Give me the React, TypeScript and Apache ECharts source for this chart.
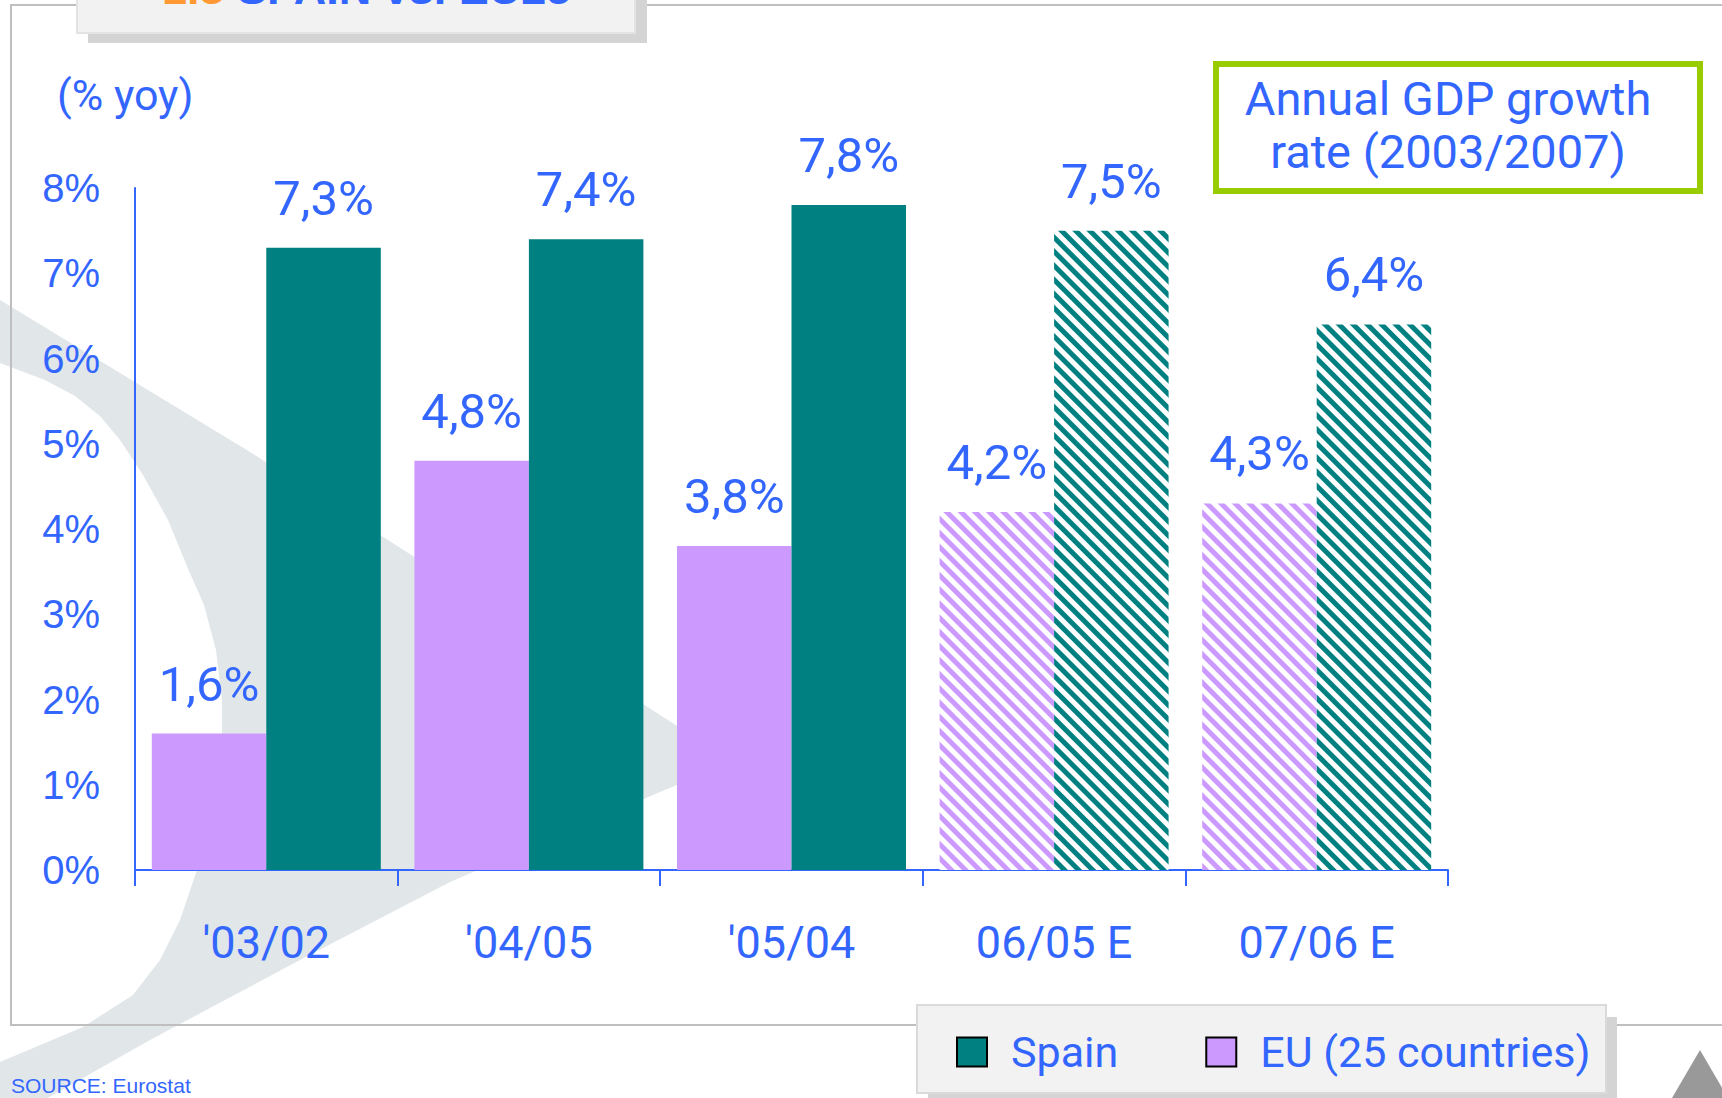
import React, { useEffect, useRef } from "react";
import * as echarts from "echarts";

const categories = ["'03/02", "'04/05", "'05/04", "06/05 E", "07/06 E"];
const euValues = [1.6, 4.8, 3.8, 4.2, 4.3];
const spainValues = [7.3, 7.4, 7.8, 7.5, 6.4];
const estimated = [false, false, false, true, true];
const seriesNames = ["Spain", "EU (25 countries)"];

const BLUE = "#3366ff";
const TEAL = "#008080";
const LILAC = "#cc99ff";
const NARROW = "Roboto, 'Liberation Sans', sans-serif";
const SANS = "'Liberation Sans', Arial, sans-serif";

function hatched(values: number[], color: string) {
  return values.map((v, i) =>
    estimated[i]
      ? {
          value: v,
          itemStyle: {
            color: "#ffffff",
            decal: {
              symbol: "rect",
              symbolSize: 1,
              color: color,
              dashArrayX: [1, 0],
              dashArrayY: [5, 5],
              rotation: Math.PI / 4,
            },
          },
        }
      : { value: v }
  );
}

const fmt = (p: any) => Number(p.value).toFixed(1).replace(".", ",") + "%";

export default function App() {
  const ref = useRef<HTMLDivElement>(null);
  useEffect(() => {
    if (!ref.current) return;
    const chart = echarts.init(ref.current, null, { renderer: "svg" });
    const label = {
      show: true,
      position: "top",
      distance: 25,
      formatter: fmt,
      fontSize: 49,
      fontFamily: NARROW,
      color: BLUE,
    };
    chart.setOption({
      animation: false,
      backgroundColor: "#ffffff",
      grid: { left: 135, right: 274, top: 188, bottom: 228, containLabel: false },
      legend: {
        left: 951,
        top: 1019,
        data: seriesNames,
        icon: "rect",
        itemWidth: 30,
        itemHeight: 29,
        itemGap: 87,
        selectedMode: false,
        itemStyle: { borderColor: "#000000", borderWidth: 2 },
        textStyle: {
          fontSize: 43,
          fontFamily: NARROW,
          color: BLUE,
          lineHeight: 56,
          padding: [0, 0, 0, 19],
        },
      },
      xAxis: {
        type: "category",
        data: categories,
        axisLine: { show: true, lineStyle: { color: BLUE, width: 2 } },
        axisTick: { show: true, length: 16, lineStyle: { color: BLUE, width: 2 } },
        axisLabel: { interval: 0, fontSize: 45, fontFamily: NARROW, color: BLUE, margin: 50 },
        splitLine: { show: false },
      },
      yAxis: {
        type: "value",
        min: 0,
        max: 8,
        interval: 1,
        axisLine: { show: true, lineStyle: { color: BLUE, width: 2 } },
        axisTick: { show: false },
        splitLine: { show: false },
        axisLabel: { formatter: "{value}%", fontSize: 40, fontFamily: SANS, color: BLUE, margin: 35 },
      },
      series: [
        {
          name: "EU (25 countries)",
          type: "bar",
          data: hatched(euValues, LILAC),
          itemStyle: { color: LILAC },
          barGap: "0%",
          barCategoryGap: "12.8%",
          label,
        },
        {
          name: "Spain",
          type: "bar",
          data: hatched(spainValues, TEAL),
          itemStyle: { color: TEAL },
          barGap: "0%",
          barCategoryGap: "12.8%",
          label,
        },
      ],
      graphic: [
        {
          type: "polygon",
          z: -10,
          silent: true,
          shape: {
            points: [
              [0, 300], [250, 452], [413, 556], [660, 715], [733, 762], [660, 792],
              [450, 882], [300, 960], [150, 1040], [0, 1125], [0, 1062], [83, 1027],
              [133, 995], [160, 960], [180, 920], [197, 870], [210, 830], [218, 780],
              [222, 740], [222, 700], [216, 650], [204, 605], [189, 571], [168, 520],
              [143, 475], [120, 440], [100, 416], [75, 396], [45, 380], [0, 363],
            ],
          },
          style: { fill: "#e1e6e8" },
        },
        {
          type: "rect",
          silent: true,
          shape: { x: 11, y: 5, width: 1800, height: 1020 },
          style: { fill: "none", stroke: "#bfbfbf", lineWidth: 2 },
        },
        {
          type: "rect",
          silent: true,
          shape: { x: 88, y: -20, width: 559, height: 63 },
          style: { fill: "#d4d4d4" },
        },
        {
          type: "rect",
          silent: true,
          shape: { x: 77, y: -20, width: 558, height: 53 },
          style: { fill: "#f2f2f2", stroke: "#e3e3e3", lineWidth: 2 },
        },
        {
          type: "text",
          silent: true,
          x: 162,
          y: 11,
          style: {
            text: "{o|1.3} {b|SPAIN vs. EU25}",
            verticalAlign: "bottom",
            align: "left",
            rich: {
              o: { fontSize: 45, fontWeight: "bold", fontFamily: SANS, fill: "#ff9933", color: "#ff9933" },
              b: { fontSize: 45, fontWeight: "bold", fontFamily: SANS, fill: BLUE, color: BLUE },
            },
            fontSize: 45,
            fontWeight: "bold",
            fontFamily: SANS,
            fill: BLUE,
          },
        },
        {
          type: "text",
          silent: true,
          x: 57,
          y: 95,
          style: {
            text: "(% yoy)",
            fontSize: 43,
            fontFamily: NARROW,
            fill: BLUE,
            verticalAlign: "middle",
            align: "left",
          },
        },
        {
          type: "rect",
          silent: true,
          shape: { x: 1216, y: 64, width: 484, height: 127 },
          style: { fill: "#ffffff", stroke: "#99cc00", lineWidth: 6 },
        },
        {
          type: "text",
          silent: true,
          x: 1448,
          y: 125,
          style: {
            text: "Annual GDP growth\nrate (2003/2007)",
            fontSize: 47,
            lineHeight: 53,
            fontFamily: NARROW,
            fill: BLUE,
            align: "center",
            verticalAlign: "middle",
          },
        },
        {
          type: "rect",
          silent: true,
          shape: { x: 928, y: 1017, width: 689, height: 100 },
          style: { fill: "#d4d4d4" },
        },
        {
          type: "rect",
          silent: true,
          shape: { x: 917, y: 1005, width: 689, height: 88 },
          style: { fill: "#f2f2f2", stroke: "#dadada", lineWidth: 2 },
        },
        {
          type: "text",
          silent: true,
          x: 11,
          y: 1085,
          style: {
            text: "SOURCE: Eurostat",
            fontSize: 21,
            fontFamily: SANS,
            fill: BLUE,
            verticalAlign: "middle",
            align: "left",
          },
        },
        {
          type: "polygon",
          silent: true,
          shape: { points: [[1700, 1050], [1672, 1098], [1728, 1098]] },
          style: { fill: "#999999" },
        },
      ],
    });
    return () => chart.dispose();
  }, []);
  return (
    <div
      ref={ref}
      style={{ position: "absolute", left: 0, top: 0, width: 1722, height: 1098 }}
    />
  );
}
